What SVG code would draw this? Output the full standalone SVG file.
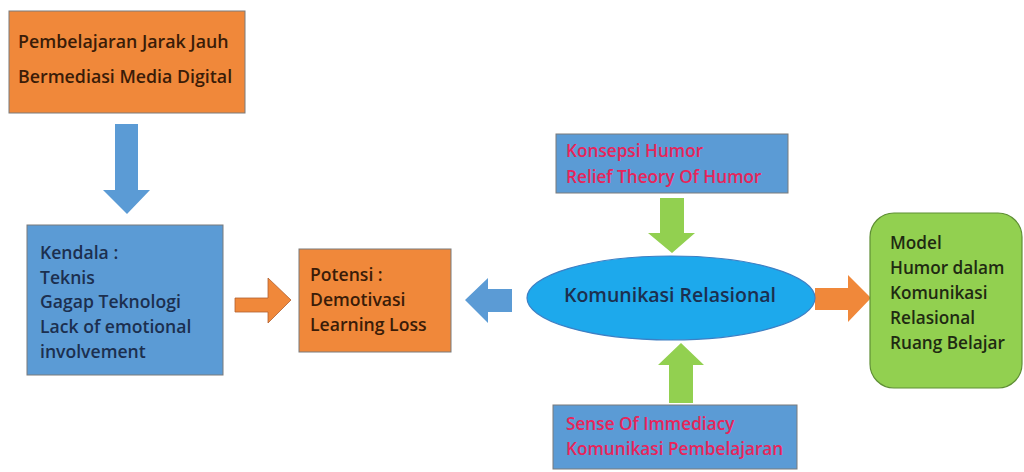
<svg xmlns="http://www.w3.org/2000/svg" width="1024" height="472" viewBox="0 0 1024 472">
<style>
.box{stroke:#7a7a7a;stroke-width:1}
.or{fill:#F0883A}
.bl{fill:#5B9BD5}
.gr{fill:#92D050}
.t{font-family:"Open Sans","Liberation Sans",Arial,sans-serif;font-size:17.6px;font-weight:600}
.dk{fill:#3a1c08}
.nv{fill:#1c2f4f}
.rd{fill:#E8245A;font-size:17.2px}
.gt{fill:#1f2a12}
</style>
<rect width="1024" height="472" fill="#ffffff"/>
<g id="connectors">
<polygon class="bl" points="115,124 138,124 138,190 150,190 127,214 103,190 115,190"/>
<polygon class="or" stroke="#b06030" stroke-width="0.8" points="235,298 268,298 268,278 291,300 268,323 268,312 235,312"/>
<polygon class="bl" points="512,289 488,289 488,278 465,300 488,323 488,312 512,312"/>
<polygon class="gr" points="660,198 684,198 684,233 695,233 672,253 648,233 660,233"/>
<polygon class="gr" points="669,403 693,403 693,365 704,365 681,343 658,365 669,365"/>
<polygon class="or" points="815,288 848,288 848,275 871,298 848,322 848,310 815,310"/>
</g>
<g id="node-pjj">
<rect class="box or" x="9" y="11" width="236" height="102"/>
<text class="t dk" x="18" y="48" style="font-size:17.8px">Pembelajaran Jarak Jauh</text>
<text class="t dk" x="18" y="83" style="font-size:17.8px">Bermediasi Media Digital</text>
</g>
<g id="node-kendala">
<rect class="box bl" x="27" y="225" width="196" height="150"/>
<text class="t nv" x="40" y="259">Kendala :</text>
<text class="t nv" x="40" y="284">Teknis</text>
<text class="t nv" x="40" y="308">Gagap Teknologi</text>
<text class="t nv" x="40" y="333">Lack of emotional</text>
<text class="t nv" x="40" y="358">involvement</text>
</g>
<g id="node-potensi">
<rect class="box or" x="299" y="249" width="152" height="103"/>
<text class="t dk" x="310" y="281">Potensi :</text>
<text class="t dk" x="310" y="306">Demotivasi</text>
<text class="t dk" x="310" y="331">Learning Loss</text>
</g>
<g id="node-konsepsi">
<rect class="box bl" x="556" y="134" width="232" height="59"/>
<text class="t rd" x="566" y="157">Konsepsi Humor</text>
<text class="t rd" x="566" y="183">Relief Theory Of Humor</text>
</g>
<g id="node-komunikasi">
<ellipse cx="671" cy="298" rx="144" ry="42" fill="#1DA9EC" stroke="#3d7fc4" stroke-width="1.2"/>
<text class="t nv" x="670" y="302" text-anchor="middle" style="font-size:19.5px">Komunikasi Relasional</text>
</g>
<g id="node-sense">
<rect class="box bl" x="553" y="405" width="244" height="64"/>
<text class="t rd" x="566" y="430">Sense Of Immediacy</text>
<text class="t rd" x="566" y="455">Komunikasi Pembelajaran</text>
</g>
<g id="node-model">
<rect class="gr" stroke="#5f8f35" stroke-width="1.2" x="870" y="213" width="152" height="175" rx="24"/>
<text class="t gt" x="890" y="249" style="font-size:17.2px">Model</text>
<text class="t gt" x="890" y="274" style="font-size:17.2px">Humor dalam</text>
<text class="t gt" x="890" y="299" style="font-size:17.2px">Komunikasi</text>
<text class="t gt" x="890" y="324" style="font-size:17.2px">Relasional</text>
<text class="t gt" x="890" y="349" style="font-size:17.2px">Ruang Belajar</text>
</g>
</svg>
